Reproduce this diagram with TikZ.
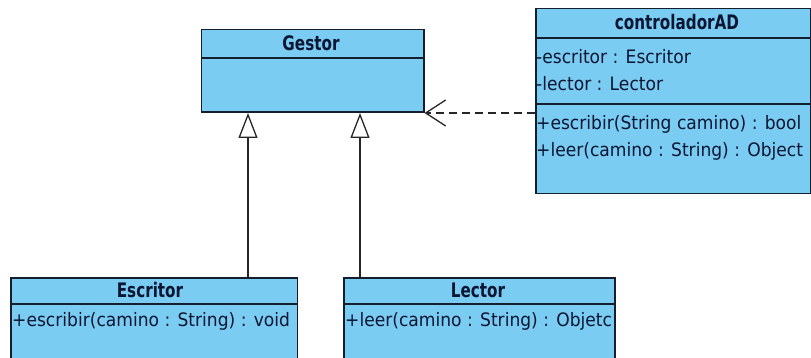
\documentclass[tikz,border=0pt]{standalone}
\usepackage{fontspec}
\setmainfont{DejaVu Sans}[FakeStretch=0.925]
\newfontfamily\titlefont{DejaVu Sans}[FakeStretch=0.76]
\usetikzlibrary{arrows.meta}
\definecolor{classfill}{RGB}{122,204,242}
\definecolor{classline}{RGB}{20,30,45}
\definecolor{classtext}{RGB}{12,22,50}
\tikzset{
  classbox/.style={draw=classline, fill=classfill, line width=1.5pt, anchor=north west, inner sep=0pt},
  sepline/.style={draw=classline, line width=1.4pt},
  classname/.style={anchor=base, inner sep=0pt, text=classtext, font=\titlefont\bfseries\fontsize{20}{22}\selectfont},
  member/.style={anchor=base west, inner sep=0pt, text=classtext, font=\fontsize{18.5}{21}\selectfont},
  inherit/.style={draw=black!85, line width=1.3pt, -{Triangle[open, length=25pt, width=19pt, fill=white]}},
  depend/.style={draw=black!85, line width=1.3pt, dash pattern=on 8pt off 5pt, -{Straight Barb[length=20pt, width=26pt]}}
}
\begin{document}
\begin{tikzpicture}[x=1pt, y=-1pt]
  \fill[white] (0,0) rectangle (811,358);
  \useasboundingbox (0,0) rectangle (811,358);

  % Gestor
  \node[classbox, minimum width=222.5pt, minimum height=82.5pt] (gestor) at (200.5,29) {};
  \draw[sepline] ([yshift=-29pt]gestor.north west) -- ([yshift=-29pt]gestor.north east);
  \node[classname] (gestorname) at (311,51) {Gestor};

  % controladorAD
  \node[classbox, minimum width=275pt, minimum height=185pt] (ctrl) at (535,8) {};
  \draw[sepline] ([yshift=-30pt]ctrl.north west) -- ([yshift=-30pt]ctrl.north east);
  \draw[sepline] ([yshift=-96pt]ctrl.north west) -- ([yshift=-96pt]ctrl.north east);
  \node[classname] (ctrlname) at (677,30) {controladorAD};
  \node[member] (ctrla1) at (536,63.5) {-escritor : Escritor};
  \node[member] (ctrla2) at (536,90.5) {-lector : Lector};
  \node[member] (ctrlm1) at (536,130) {+escribir(String camino) : bool};
  \node[member] (ctrlm2) at (536,156.5) {+leer(camino : String) : Object};

  % Escritor
  \node[classbox, minimum width=286.5pt, minimum height=90pt] (escritor) at (10,277) {};
  \draw[sepline] ([yshift=-27pt]escritor.north west) -- ([yshift=-27pt]escritor.north east);
  \node[classname] (escritorname) at (150,297) {Escritor};
  \node[member] (escritorm1) at (12,326.5) {+escribir(camino : String) : void};

  % Lector
  \node[classbox, minimum width=271pt, minimum height=90pt] (lector) at (343,277) {};
  \draw[sepline] ([yshift=-27pt]lector.north west) -- ([yshift=-27pt]lector.north east);
  \node[classname] (lectorname) at (478,297) {Lector};
  \node[member] (lectorm1) at (345,326.5) {+leer(camino : String) : Objetc};

  % generalizations
  \draw[inherit] ([xshift=238pt]escritor.north west) -- ([xshift=47.5pt]gestor.south west);
  \draw[inherit] ([xshift=17pt]lector.north west) -- ([xshift=159.5pt]gestor.south west);

  % dependency
  \draw[depend] (ctrl.west |- gestor.south east) -- (gestor.south east);
\end{tikzpicture}
\end{document}
